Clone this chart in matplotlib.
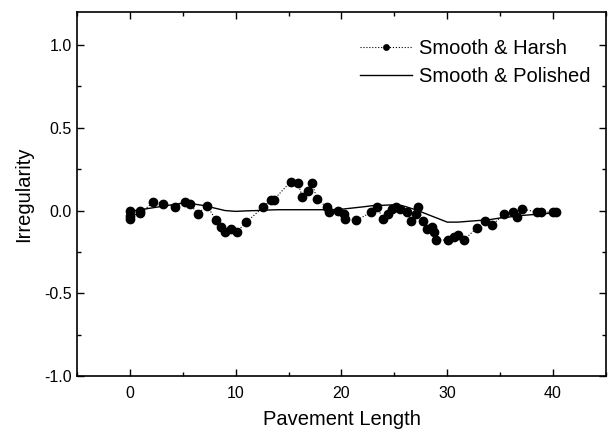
import numpy as np
import matplotlib
matplotlib.use("Agg")
import matplotlib.pyplot as plt
from matplotlib.ticker import MultipleLocator

plt.rcParams['font.family'] = ['Liberation Sans', 'DejaVu Sans']

# Smooth & Harsh (dots, dotted line)
harsh_x = [0.0, 0.0, 0.0, 1.0, 1.0, 2.2, 3.1, 4.3, 5.2, 5.7, 6.4, 7.3, 8.1, 8.6, 9.0,
           9.6, 10.1, 11.0, 12.6, 13.3, 13.6, 15.2, 15.9, 16.3, 16.8, 17.2, 17.7, 18.6,
           18.8, 19.7, 20.2, 20.3, 21.4, 22.8, 23.4, 23.9, 24.4, 24.8, 25.2, 25.5, 26.2,
           26.6, 27.0, 27.2, 27.7, 28.1, 28.6, 28.7, 28.9, 30.1, 30.6, 31.0, 31.6, 32.8,
           33.6, 34.2, 35.4, 36.2, 36.6, 37.1, 38.5, 38.9, 40.0, 40.3]
harsh_y = [0.0, -0.03, -0.05, 0.0, -0.015, 0.05, 0.04, 0.02, 0.05, 0.04, -0.02, 0.03,
           -0.055, -0.10, -0.13, -0.11, -0.13, -0.07, 0.02, 0.065, 0.065, 0.175, 0.165,
           0.08, 0.12, 0.165, 0.07, 0.02, -0.01, -0.005, -0.02, -0.05, -0.06, -0.01, 0.02,
           -0.05, -0.02, 0.01, 0.02, 0.01, -0.01, -0.065, -0.02, 0.02, -0.065, -0.11,
           -0.10, -0.13, -0.175, -0.18, -0.16, -0.15, -0.175, -0.105, -0.065, -0.09,
           -0.02, -0.01, -0.04, 0.01, -0.01, -0.01, -0.01, -0.01]

# Smooth & Polished (solid line)
polished_x = list(range(0, 41))
polished_y = [-0.005, 0.005, 0.015, 0.025, 0.035, 0.045, 0.04, 0.03, 0.015, 0.0,
              -0.005, -0.002, 0.0, 0.003, 0.005, 0.005, 0.005, 0.005, 0.005, 0.005,
              0.008, 0.015, 0.022, 0.03, 0.032, 0.035, 0.025, 0.005, -0.02, -0.045,
              -0.07, -0.07, -0.065, -0.06, -0.055, -0.045, -0.038, -0.03, -0.025,
              -0.02, -0.015]

fig = plt.figure(figsize=(6.09, 4.34), dpi=100)
ax = fig.add_axes([0.1264, 0.1336, 0.8686, 0.8388])

ax.plot(harsh_x, harsh_y, ':', color='black', lw=0.8, marker='o', markersize=6,
        label='Smooth & Harsh')
ax.plot(polished_x, polished_y, '-', color='black', lw=1.0, label='Smooth & Polished')

ax.set_xlim(-5, 45)
ax.set_ylim(-1.0, 1.2)
ax.xaxis.set_major_locator(MultipleLocator(10))
ax.xaxis.set_minor_locator(MultipleLocator(5))
ax.yaxis.set_major_locator(MultipleLocator(0.5))
ax.yaxis.set_minor_locator(MultipleLocator(0.25))
ax.tick_params(which='both', direction='in', top=True, right=True, labelsize=11.5)
ax.tick_params(axis='x', which='major', pad=7)
ax.tick_params(which='major', length=5, width=1)
ax.tick_params(which='minor', length=3, width=1)
ax.set_yticks([-1.0, -0.5, 0.0, 0.5, 1.0])
ax.set_yticklabels(['-1.0', '-0.5', '0.0', '0.5', '1.0'])
for s in ax.spines.values():
    s.set_linewidth(1.2)

ax.set_xlabel('Pavement Length', fontsize=14.5, labelpad=7)
ax.set_ylabel('Irregularity', fontsize=14.5, labelpad=8)

ax.legend(loc='upper left', bbox_to_anchor=(0.5, 0.975), frameon=False, fontsize=14.5,
          handlelength=2.6, handletextpad=0.35, markerscale=0.65, labelspacing=0.45)

fig.savefig('out.png', dpi=100)
